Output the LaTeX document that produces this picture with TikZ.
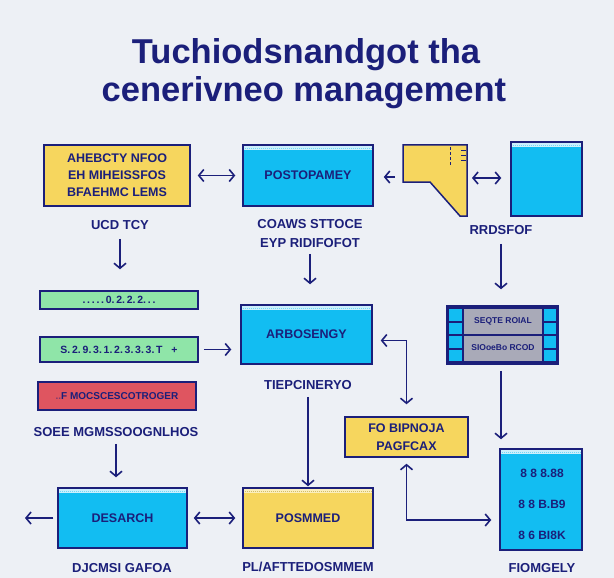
\documentclass[tikz,border=0pt]{standalone}
\usepackage{fontspec}
\setmainfont{Liberation Sans}
\usetikzlibrary{arrows.meta,calc}
\definecolor{navy}{HTML}{1B1F7A}
\definecolor{bg}{HTML}{EDF0F5}
\definecolor{yel}{HTML}{F6D65E}
\definecolor{cya}{HTML}{12BDF2}
\definecolor{grn}{HTML}{8FE5A8}
\definecolor{rd}{HTML}{DF5560}
\definecolor{gry}{HTML}{A9AAB8}
\begin{document}
\begin{tikzpicture}[x=1pt,y=-1pt,
 box/.style={draw=navy,line width=1.5pt,inner sep=0pt,align=center,text=navy,font=\bfseries\fontsize{12.5}{17}\selectfont},
 ybox/.style={box,fill=yel},
 cbox/.style={box,fill=cya,path picture={
   \fill[cyan!20!white] ([yshift=-1pt]path picture bounding box.north west) rectangle ([yshift=-5pt]path picture bounding box.north east);
   \draw[cya!60!white,line width=0.7pt,dash pattern=on 1pt off 1pt] ([yshift=-3pt]path picture bounding box.north west) -- ([yshift=-3pt]path picture bounding box.north east);}},
 bar/.style={box,font=\bfseries\fontsize{10.5}{12}\selectfont},
 lbl/.style={text=navy,font=\bfseries\fontsize{13}{19}\selectfont,inner sep=1pt,align=center},
 itxt/.style={text=navy,font=\bfseries\fontsize{12}{14}\selectfont,inner sep=0pt},
 arr/.style={draw=navy,line width=1.6pt,-{Straight Barb[length=5pt,width=12pt]}},
 darr/.style={draw=navy,line width=1.6pt,{Straight Barb[length=5pt,width=12pt]}-{Straight Barb[length=5pt,width=12pt]}},
]
\fill[bg] (0,0) rectangle (614,578);
\useasboundingbox (0,0) rectangle (614,578);

% title
\node[text=navy,font=\bfseries\fontsize{34.5}{40}\selectfont] (t1) at (306,55) {Tuchiodsnandgot tha};
\node[text=navy,font=\bfseries\fontsize{34.5}{40}\selectfont] (t2) at (304,93) {cenerivneo management};

% row 1
\node[ybox,minimum width=146pt,minimum height=61pt] (A) at (117,175.5) {AHEBCTY NFOO\\EH MIHEISSFOS\\BFAEHMC LEMS};
\node[lbl] (lA) at (120,225) {UCD TCY};
\node[cbox,minimum width=130pt,minimum height=61pt] (B) at (308,175.5) {POSTOPAMEY};
\node[lbl] (lB) at (310,233.5) {COAWS STTOCE\\EYP RIDIFOFOT};
\draw[navy,line width=1.5pt,fill=yel] (403,145) -- (467,145) -- (467,216) -- (460,216) -- (430,182) -- (403,182) -- cycle;
\draw[navy,line width=0.6pt,densely dashed] (450,147) -- (450,165);
\foreach \yy in {150,155,160}{\draw[navy,line width=0.8pt] (461,\yy) -- (466,\yy);}
\coordinate (Cw) at (403,177);
\coordinate (Ce) at (467,178);
\node[cbox,minimum width=71pt,minimum height=74pt] (D) at (546.5,179) {};
\node[lbl] (lD) at (501,230) {RRDSFOF};

\draw[darr,shorten <=7pt,shorten >=7pt] (A) -- (B);
\draw[arr,shorten <=8pt,shorten >=10pt] (Cw) -- (B.east |- Cw);
\draw[darr,shorten <=5pt,shorten >=9pt] (Ce) -- (D.west |- Ce);

% row 2 left bars
\node[bar,fill=grn,minimum width=158pt,minimum height=18pt] (G1) at (119,300) {.\,.\,.\,.\,.\,0.\,2.\,2.\,2.\,.\,.};
\node[bar,fill=grn,minimum width=158pt,minimum height=25pt] (G2) at (119,349.5) {S.\,2.\,9.\,3.\,1.\,2.\,3.\,3.\,3.\,T\ \ \ +};
\node[bar,fill=rd,minimum width=158pt,minimum height=28pt,font=\bfseries\fontsize{10}{12}\selectfont] (R) at (117,396) {{\color{navy!50!rd}..}F MOCSCESCOTROGER};
\node[lbl] (lR) at (116,432) {SOEE MGMSSOOGNLHOS};

\draw[arr,shorten <=8pt,shorten >=21pt] (lA) -- (G1.north -| lA);

% middle column
\node[cbox,minimum width=131pt,minimum height=59pt] (E) at (306.5,334.5) {ARBOSENGY};
\node[lbl] (lE) at (308,385) {TIEPCINERYO};
\draw[arr,shorten <=5pt,shorten >=20pt] (lB) -- (E.north -| lB);
\draw[arr,shorten <=5pt,shorten >=9pt] (G2.east) -- (E.west |- G2.east);

% film strip
\node[draw=navy,line width=1.5pt,fill=navy,minimum width=111pt,minimum height=58pt,inner sep=0pt] (G) at (502.5,335) {};
\foreach \yy in {309,322.5,336,349.5}{
  \fill[cya] (449,\yy) rectangle (462,\yy+11.5);
  \fill[cya] (544,\yy) rectangle (556,\yy+11.5);
}
\fill[gry] (464,309) rectangle (542,333.5);
\fill[gry] (464,336) rectangle (542,361);
\node[text=navy,font=\bfseries\fontsize{8.5}{10}\selectfont] (g1) at (503,321) {SEQTE ROIAL};
\node[text=navy,font=\bfseries\fontsize{8.5}{10}\selectfont] (g2) at (503,348) {SIOoeBo RCOD};
\draw[arr,shorten <=8pt,shorten >=16pt] (lD) -- (G.north -| lD);

\node[ybox,minimum width=123pt,minimum height=40pt,font=\bfseries\fontsize{12.5}{18}\selectfont] (F) at (406.5,437) {FO BIPNOJA\\PAGFCAX};
\node[cbox,minimum width=82pt,minimum height=101pt] (I) at (541,499.5) {};
\node[itxt] (i1) at (542,473) {8 8 8.88};
\node[itxt] (i2) at (542,504) {8 8 B.B9};
\node[itxt] (i3) at (542,535) {8 6 BI8K};
\node[lbl] (lI) at (542,568) {FIOMGELY};
\draw[arr,shorten <=6pt,shorten >=9pt] (G.south -| lD) -- (I.north -| lD);
\draw[darr,shorten <=8pt,shorten >=12pt] ($(E.east)+(0,6)$) -| (F.north);
\draw[darr,shorten <=6pt,shorten >=8pt] (F.south) |- ($(I.west)+(0,20.5)$);

% bottom row
\node[cbox,minimum width=129pt,minimum height=60pt] (J) at (122.5,518) {DESARCH};
\node[lbl] (lJ) at (122,568) {DJCMSI GAFOA};
\node[ybox,minimum width=130pt,minimum height=60pt,path picture={
   \fill[yel!40!white] ([yshift=-1pt]path picture bounding box.north west) rectangle ([yshift=-5pt]path picture bounding box.north east);
   \draw[yel!70!gray,line width=0.7pt,dash pattern=on 1pt off 1pt] ([yshift=-3pt]path picture bounding box.north west) -- ([yshift=-3pt]path picture bounding box.north east);}] (H) at (308,518) {POSMMED};
\node[lbl] (lH) at (308,567) {PL/AFTTEDOSMMEM};
\coordinate (Jl) at (25,518);
\draw[arr,shorten <=4pt] (J.west) -- (Jl);
\draw[darr,shorten <=6pt,shorten >=7pt] (J) -- (H);
\draw[arr,shorten <=6pt,shorten >=10pt] (lR) -- (J.north -| lR);
\draw[arr,shorten <=6pt,shorten >=1pt] (lE) -- (H.north -| lE);
\end{tikzpicture}
\end{document}
